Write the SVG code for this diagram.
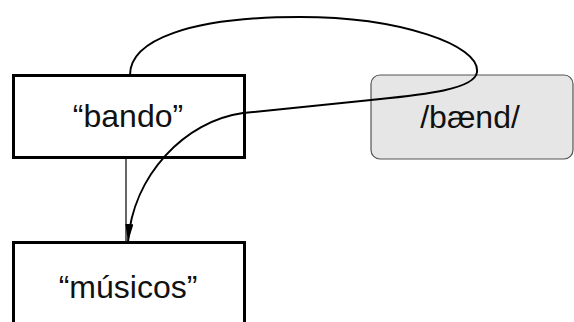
<svg xmlns="http://www.w3.org/2000/svg" width="574" height="322" viewBox="0 0 574 322">
<style>
.box{fill:#fff;stroke:#000;stroke-width:3}
.gbox{fill:#e6e6e6;stroke:#555;stroke-width:1.2}
.lbl{font-family:"Liberation Sans",Arial,sans-serif;font-size:32px;fill:#111;text-anchor:middle}
.edge{fill:none;stroke:#000}
</style>
<defs>
<marker id="ah" viewBox="0 0 18 8" refX="18" refY="4" markerWidth="18" markerHeight="8" markerUnits="userSpaceOnUse" orient="auto">
<path d="M0,0 L18,4 L0,8 Z" fill="#000"/>
</marker>
</defs>
<rect width="574" height="322" fill="#fff"/>
<g id="n-bando"><rect class="box" x="13.5" y="75.5" width="231" height="82"/><text class="lbl" x="128" y="127">“bando”</text></g>
<g id="n-bend"><rect class="gbox" x="371" y="75" width="202" height="84" rx="9" ry="9"/><text class="lbl" x="470" y="128">/bænd/</text></g>
<g id="n-musicos"><rect class="box" x="13.5" y="242.5" width="231" height="100"/><text class="lbl" x="128" y="298">“músicos”</text></g>
<g id="connectors">
<path class="edge" stroke-width="1.2" d="M126,159 L126,242"/>
<path class="edge" stroke-width="2" marker-end="url(#ah)" d="M130,75 C130,40 190,17 300,17 C400,17 480,45 477,72 C475,90 420,95 371,100 L243,113 C185,121 133,175 128,242"/>
</g>
</svg>
